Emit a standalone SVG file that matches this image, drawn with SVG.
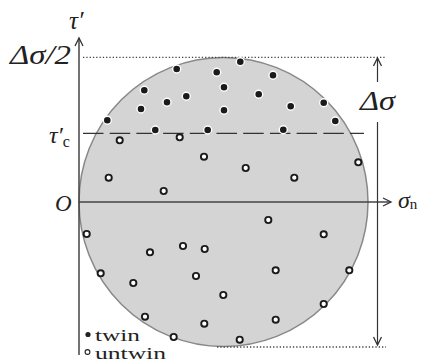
<svg xmlns="http://www.w3.org/2000/svg" width="424" height="362" viewBox="0 0 424 362">
<style>
.ax{stroke:#444;stroke-width:1.5;fill:none}
.thin{stroke:#333;stroke-width:1.2;fill:none}
.dot{stroke:#444;stroke-width:1.3;stroke-dasharray:1.3 2;fill:none}
.f{fill:#1a1a1a;stroke:#fff;stroke-width:1.4}
.o{fill:#fff;stroke:#1a1a1a;stroke-width:1.9}
.m{font-family:"Liberation Serif","DejaVu Serif",serif;font-style:italic;fill:#222}
.r{font-family:"Liberation Serif","DejaVu Serif",serif;fill:#222}
</style>
<defs>
<marker id="ah" markerUnits="userSpaceOnUse" markerWidth="12" markerHeight="12" refX="9" refY="5" orient="auto">
<path d="M1,1 L9,5 L1,9" fill="none" stroke="#333" stroke-width="1.3"/>
</marker>
</defs>
<g id="circle">
<circle cx="223.5" cy="202" r="144.5" fill="#d4d4d4" stroke="#888" stroke-width="1.5"/>
</g>
<g id="connectors">
<line class="dot" x1="83" y1="57.3" x2="386" y2="57.3"/>
<line class="dot" x1="217" y1="347" x2="386" y2="347"/>
<line x1="83" y1="133.3" x2="364" y2="133.3" stroke="#333" stroke-width="1.3" stroke-dasharray="20.5 6.2"/>
<line class="ax" x1="79" y1="355" x2="79" y2="38" marker-end="url(#ah)"/>
<line class="ax" x1="79" y1="202" x2="391" y2="202" marker-end="url(#ah)"/>
<line class="thin" x1="377.5" y1="82" x2="377.5" y2="58" marker-end="url(#ah)"/>
<line class="thin" x1="377.5" y1="122" x2="377.5" y2="345" marker-end="url(#ah)"/>
</g>
<g id="twin">
<circle class="f" cx="176.7" cy="69" r="4"/>
<circle class="f" cx="216.7" cy="72.3" r="4"/>
<circle class="f" cx="224" cy="87.3" r="4"/>
<circle class="f" cx="144.3" cy="90.3" r="4"/>
<circle class="f" cx="186.3" cy="96.3" r="4"/>
<circle class="f" cx="167" cy="102.3" r="4"/>
<circle class="f" cx="141" cy="109" r="4"/>
<circle class="f" cx="224" cy="110.3" r="4"/>
<circle class="f" cx="107.3" cy="120.3" r="4"/>
<circle class="f" cx="155.3" cy="130" r="4"/>
<circle class="f" cx="207.7" cy="130" r="4"/>
<circle class="f" cx="240.3" cy="61.7" r="4"/>
<circle class="f" cx="273" cy="75.3" r="4"/>
<circle class="f" cx="258.7" cy="94.3" r="4"/>
<circle class="f" cx="290.7" cy="106.3" r="4"/>
<circle class="f" cx="323.7" cy="102.7" r="4"/>
<circle class="f" cx="335.3" cy="121" r="4"/>
<circle class="f" cx="283.3" cy="129.7" r="4"/>
</g>
<g id="untwin">
<circle class="o" cx="119.7" cy="140.3" r="3.1"/>
<circle class="o" cx="179.7" cy="137.3" r="3.1"/>
<circle class="o" cx="204" cy="156.7" r="3.1"/>
<circle class="o" cx="108.7" cy="177.7" r="3.1"/>
<circle class="o" cx="163.7" cy="191" r="3.1"/>
<circle class="o" cx="245.7" cy="168" r="3.1"/>
<circle class="o" cx="294.3" cy="177.7" r="3.1"/>
<circle class="o" cx="358.3" cy="162.3" r="3.1"/>
<circle class="o" cx="268.3" cy="220" r="3.1"/>
<circle class="o" cx="323.7" cy="234.3" r="3.1"/>
<circle class="o" cx="86.7" cy="234" r="3.1"/>
<circle class="o" cx="183" cy="246" r="3.1"/>
<circle class="o" cx="150" cy="252.3" r="3.1"/>
<circle class="o" cx="204.7" cy="249" r="3.1"/>
<circle class="o" cx="100.7" cy="273.3" r="3.1"/>
<circle class="o" cx="133.3" cy="283" r="3.1"/>
<circle class="o" cx="196" cy="276" r="3.1"/>
<circle class="o" cx="223.3" cy="295" r="3.1"/>
<circle class="o" cx="145" cy="316.7" r="3.1"/>
<circle class="o" cx="204.3" cy="323.7" r="3.1"/>
<circle class="o" cx="173.7" cy="337" r="3.1"/>
<circle class="o" cx="275.7" cy="270.3" r="3.1"/>
<circle class="o" cx="349.3" cy="270.3" r="3.1"/>
<circle class="o" cx="323.7" cy="304" r="3.1"/>
<circle class="o" cx="275.7" cy="319.7" r="3.1"/>
<circle class="o" cx="239.7" cy="339.7" r="3.1"/>
</g>
<g id="labels">
<text class="m" x="69" y="29" font-size="25">τ′</text>
<text class="m" x="10" y="64" font-size="27" textLength="61" lengthAdjust="spacingAndGlyphs">Δσ/2</text>
<text class="m" x="49" y="143" font-size="24">τ′<tspan class="r" font-style="normal" font-size="16" dy="4">c</tspan></text>
<text class="m" x="55" y="211" font-size="23">O</text>
<text class="m" x="398" y="208" font-size="24">σ<tspan class="r" font-style="normal" font-size="15" dy="1">n</tspan></text>
<text class="m" x="360" y="110" font-size="27" textLength="35" lengthAdjust="spacingAndGlyphs">Δσ</text>
</g>
<g id="legend">
<circle cx="88" cy="334.5" r="2.6" fill="#222"/>
<text class="r" x="95" y="340.5" font-size="16.5" textLength="45" lengthAdjust="spacingAndGlyphs">twin</text>
<circle cx="87.5" cy="352" r="2.4" fill="#fff" stroke="#222" stroke-width="1.1"/>
<text class="r" x="95" y="358.5" font-size="16.5" textLength="71" lengthAdjust="spacingAndGlyphs">untwin</text>
</g>
</svg>
